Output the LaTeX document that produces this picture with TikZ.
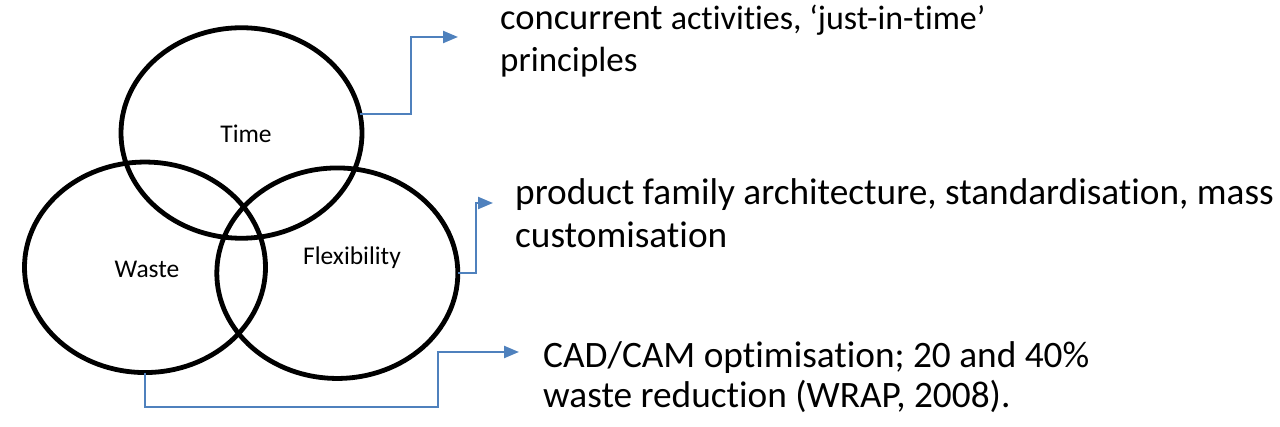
\documentclass[tikz,border=0pt]{standalone}
\usepackage{fontspec}
\setmainfont{Carlito}[Ligatures=NoCommon]
\usetikzlibrary{arrows.meta,shapes.geometric}
\definecolor{linkblue}{RGB}{79,129,189}
\begin{document}
\begin{tikzpicture}[x=1pt,y=-1pt,
  set/.style={draw, line width=4.8pt, ellipse, minimum width=241pt,
    minimum height=210.5pt, inner sep=0pt, outer sep=0pt},
  setlabel/.style={font=\fontsize{25.5}{30}\selectfont, anchor=base, inner sep=0pt},
  conn/.style={draw=linkblue, line width=2.3pt, -{Triangle[length=15pt,width=12pt]}},
  note/.style={anchor=base west, inner sep=0pt, font=\fontsize{37.3}{44}\selectfont}]
\useasboundingbox (0,0) rectangle (1280,427);

% the three overlapping sets
\node[set] (time)  at (241.5,133)   {};
\node[set] (waste) at (145,267.3)   {};
\node[set] (flex)  at (337.3,273.2) {};
\node[setlabel] (timelbl)  at (246,143) {Time};
\node[setlabel] (wastelbl) at (147,278) {Waste};
\node[setlabel] (flexlbl)  at (352,265) {Flexibility};

% explanatory notes
\node[note, font=\fontsize{36.5}{42}\selectfont] (n1a) at (500,30)
  {concurrent {\fontsize{34}{40}\selectfont activities, ‘just-in-time’}};
\node[note, font=\fontsize{35}{42}\selectfont] (n1b) at (500,72) {principles};
\node[note] (n2a) at (515,205) {product family architecture, standardisation, mass};
\node[note] (n2b) at (515,248) {customisation};
\node[note] (n3a) at (543,368) {CAD/CAM optimisation; 20 and 40\%};
\node[note] (n3b) at (543,408) {waste reduction (WRAP, 2008).};

% elbow connectors from the sets towards the notes
\coordinate (b1) at (411,37);  \coordinate (t1) at (458,37);
\coordinate (b2) at (476,203); \coordinate (t2) at (493,203);
\coordinate (b3) at (438,407); \coordinate (t3) at (519,352);
\draw[conn] (time.9.5) -| (b1) -- (t1);
\draw[conn] (flex.east) -| (b2) -- (t2);
\draw[conn] (waste.south) |- (b3) |- (t3);
\end{tikzpicture}
\end{document}
